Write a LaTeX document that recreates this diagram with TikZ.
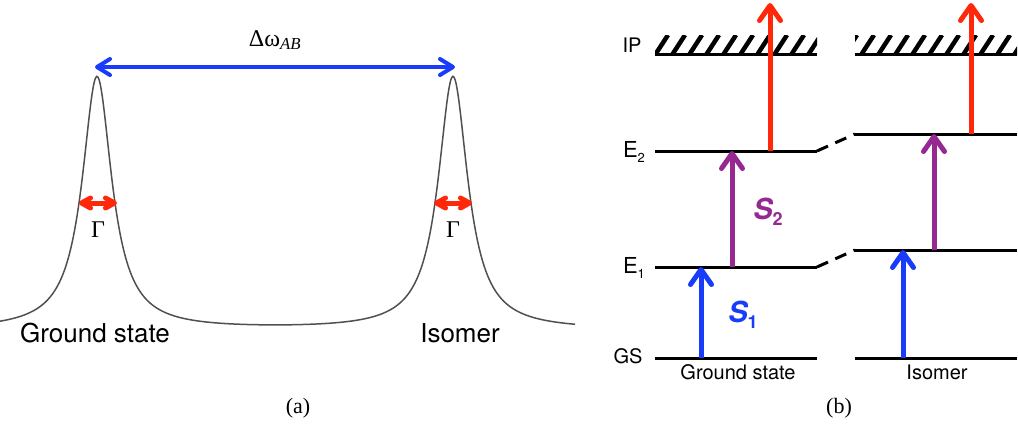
\documentclass[tikz,border=0pt]{standalone}
\usepackage{fontspec}
\setmainfont{Liberation Serif}
\setsansfont{TeX Gyre Heros}
\usetikzlibrary{arrows.meta}
\definecolor{cblue}{RGB}{25,60,250}
\definecolor{cred}{RGB}{255,40,10}
\definecolor{cpurple}{RGB}{150,40,145}
\definecolor{cgray}{RGB}{80,80,80}
\tikzset{
  bigtip/.style={-{Straight Barb[length=15pt,width=21pt,round]}, line width=5pt},
  dbltip/.style={{Straight Barb[length=13pt,width=16pt,round]}-{Straight Barb[length=13pt,width=16pt,round]}, line width=4pt},
  smalltip/.style={{Straight Barb[length=9pt,width=10pt,round]}-{Straight Barb[length=9pt,width=10pt,round]}, line width=5pt},
  levelline/.style={line width=3pt, black},
  linkdash/.style={line width=3pt, dash pattern=on 12pt off 8pt},
  hatchline/.style={line width=4.5pt},
  sanslab/.style={font=\sffamily\fontsize{20}{23}\selectfont, inner sep=0pt},
  biglab/.style={font=\sffamily\fontsize{26}{30}\selectfont, inner sep=0pt},
  serlab/.style={font=\fontsize{24}{28}\selectfont, inner sep=0pt},
  slab/.style={font=\sffamily\bfseries\fontsize{29}{33}\selectfont, inner sep=0pt},
}
\begin{document}
\begin{tikzpicture}[x=1pt,y=-1pt]
\useasboundingbox (0,0) rectangle (1018,426);
% ---------- panel (a)
\draw[cgray, line width=1.5pt] plot[domain=0:575, samples=500, smooth]
  (\x, {330 - 253*(1/(1+((\x-97)/18)^2) + 1/(1+((\x-453)/18)^2))});
\coordinate (pl) at (95,67);
\coordinate (pr) at (455,67);
\draw[dbltip, cblue] (pl) -- (pr);
\node[serlab] (dw) at (275,40) {Δω\textsubscript{\itshape AB}};
\coordinate (gl1) at (79,203); \coordinate (gl2) at (117,203);
\coordinate (gr1) at (434,203); \coordinate (gr2) at (472,203);
\draw[smalltip, cred] (gl1) -- (gl2);
\draw[smalltip, cred] (gr1) -- (gr2);
\node[serlab] (G1) at (98,230) {Γ};
\node[serlab] (G2) at (453,230) {Γ};
\node[biglab] (gsa) at (95,333) {Ground state};
\node[biglab] (isa) at (460,333) {Isomer};
\node[serlab, font=\fontsize{22}{26}\selectfont] (la) at (298,408) {(a)};
% ---------- panel (b)
% levels
\coordinate (GSL0) at (655,358); \coordinate (GSL1) at (817,358);
\coordinate (GSR0) at (855,358); \coordinate (GSR1) at (1017,358);
\coordinate (E1L0) at (655,267); \coordinate (E1L1) at (817,267);
\coordinate (E1R0) at (855,250); \coordinate (E1R1) at (1017,250);
\coordinate (E2L0) at (655,151); \coordinate (E2L1) at (817,151);
\coordinate (E2R0) at (855,134); \coordinate (E2R1) at (1017,134);
\coordinate (IPL0) at (655,54); \coordinate (IPL1) at (817,54);
\coordinate (IPR0) at (855,54); \coordinate (IPR1) at (1017,54);
\foreach \a/\b in {GSL0/GSL1,GSR0/GSR1,E1L0/E1L1,E1R0/E1R1,E2L0/E2L1,E2R0/E2R1,IPL0/IPL1,IPR0/IPR1}
  \draw[levelline] (\a) -- (\b);
\draw[linkdash] (E1L1) -- (E1R0);
\draw[linkdash] (E2L1) -- (E2R0);
% hatching
\begin{scope}
  \clip (655,35) rectangle (817,55);
  \foreach \k in {0,...,10} \draw[hatchline] ({655+17*\k},55) -- ++(13,-20);
\end{scope}
\begin{scope}
  \clip (855,35) rectangle (1017,55);
  \foreach \k in {0,...,10} \draw[hatchline] ({844+17*\k},55) -- ++(13,-20);
\end{scope}
% transitions
\coordinate (a1s) at (701,358); \coordinate (a1e) at (701,267);
\coordinate (a2s) at (732,267); \coordinate (a2e) at (732,151);
\coordinate (a3s) at (770,151); \coordinate (a3e) at (770,3);
\coordinate (b1s) at (903,358); \coordinate (b1e) at (903,250);
\coordinate (b2s) at (934,250); \coordinate (b2e) at (934,134);
\coordinate (b3s) at (971,134); \coordinate (b3e) at (971,3);
\draw[bigtip, cblue] (a1s) -- (a1e);
\draw[bigtip, cpurple] (a2s) -- (a2e);
\draw[bigtip, cred] (a3s) -- (a3e);
\draw[bigtip, cblue] (b1s) -- (b1e);
\draw[bigtip, cpurple] (b2s) -- (b2e);
\draw[bigtip, cred] (b3s) -- (b3e);
\node[slab, text=cblue] (S1) at (743,315) {\itshape S\raisebox{-0.4ex}{\fontsize{18}{20}\selectfont\upshape 1}};
\node[slab, text=cpurple] (S2) at (768,212) {\itshape S\raisebox{-0.4ex}{\fontsize{18}{20}\selectfont\upshape 2}};
% labels
\node[sanslab] (IP) at (632,45) {IP};
\node[sanslab, font=\sffamily\fontsize{22}{24}\selectfont] (E2) at (634,152) {E\raisebox{-0.45ex}{\fontsize{13}{14}\selectfont 2}};
\node[sanslab, font=\sffamily\fontsize{22}{24}\selectfont] (E1) at (634,268) {E\raisebox{-0.45ex}{\fontsize{13}{14}\selectfont 1}};
\node[sanslab] (GS) at (628,356) {GS};
\node[sanslab] (gsb) at (738,372) {Ground state};
\node[sanslab] (isb) at (937,372) {Isomer};
\node[serlab, font=\fontsize{22}{26}\selectfont] (lb) at (839,408) {(b)};
\end{tikzpicture}
\end{document}
